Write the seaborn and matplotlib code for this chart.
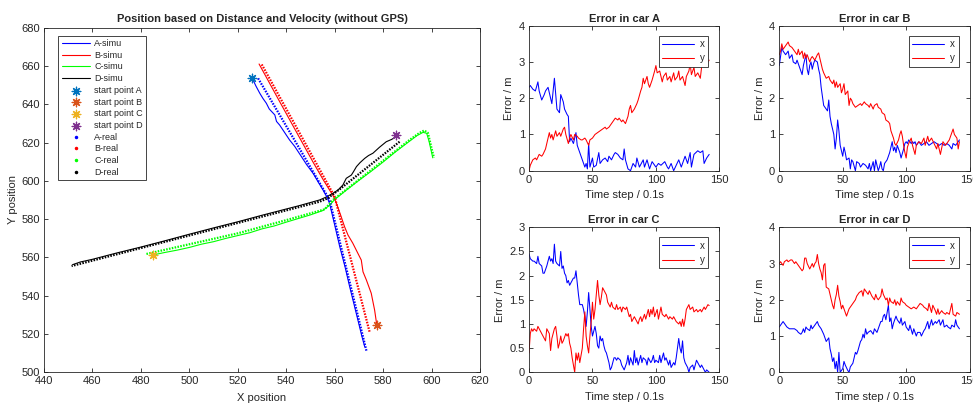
import matplotlib
matplotlib.use("Agg")
import matplotlib.pyplot as plt
from matplotlib.lines import Line2D
import seaborn as sns

# ---------------- trajectories (X / Y position) ----------------
a_simu_x = [526.0, 527.5, 529.1, 530.4, 531.8, 533.0, 535.3, 536.0, 537.3, 539.2, 541.4, 543.5,
            546.3, 548.4, 551.1, 553.0, 555.2, 557.0, 557.9, 560.0, 562.1, 564.3, 566.2, 568.0,
            569.6, 571.2, 572.4]
a_simu_y = [653.5, 649.5, 645.7, 643.0, 640.5, 637.5, 634.4, 631.0, 629.1, 625.5, 621.3, 618.0,
            612.6, 608.5, 603.9, 599.8, 595.2, 591.0, 588.2, 577.0, 565.6, 555.0, 544.7, 535.5,
            527.3, 519.0, 513.4]
a_real_x = [528.4, 544.2, 557.9, 573.1]
a_real_y = [653.5, 619.6, 590.0, 511.3]

b_simu_x = [577.4, 576.5, 575.1, 573.1, 571.7, 571.0, 569.6, 567.5, 565.5, 564.1, 563.4, 562.5,
            560.8, 559.6, 555.3, 551.2, 546.7, 541.6, 536.8, 528.8]
b_simu_y = [524.7, 532.5, 541.3, 548.2, 552.5, 558.6, 562.1, 567.4, 571.7, 576.0, 578.6, 582.0,
            588.0, 591.7, 600.5, 609.5, 619.8, 631.5, 642.5, 661.0]
b_real_x = [574.4, 560.0, 529.8]
b_real_y = [521.2, 591.7, 661.0]

c_simu_x = [485.1, 490.0, 495.0, 500.0, 505.0, 510.0, 515.0, 520.0, 525.0, 530.0, 535.0, 540.0,
            545.0, 550.0, 555.0, 558.0, 560.0, 565.0, 570.0, 575.0, 580.0, 585.0, 590.0, 594.0,
            596.5, 598.0, 599.0, 600.5]
c_simu_y = [561.3, 562.6, 563.8, 565.2, 566.9, 568.2, 569.9, 571.4, 572.9, 574.9, 576.4, 578.4,
            580.3, 582.2, 584.4, 587.3, 590.2, 595.3, 600.2, 604.9, 609.8, 615.0, 619.8, 623.6,
            625.3, 624.8, 620.5, 612.0]
c_real_x = [482.3, 520.1, 540.1, 555.9, 559.3, 575.0, 590.9, 595.0, 597.0, 598.5, 600.0, 601.0]
c_real_y = [561.8, 572.6, 579.5, 585.1, 590.0, 605.5, 621.3, 625.0, 626.3, 625.0, 617.0, 612.0]

d_simu_x = [585.4, 583.5, 581.3, 578.5, 575.8, 574.0, 572.4, 570.5, 569.0, 567.8, 566.9, 564.8,
            563.4, 561.4, 559.3, 556.5, 553.8, 545.6, 530.0, 520.0, 510.0, 500.0, 490.0, 480.0,
            470.0, 460.0, 455.0, 451.8]
d_simu_y = [623.0, 621.6, 620.4, 617.5, 614.4, 613.2, 611.7, 609.5, 607.4, 604.8, 603.0, 601.3,
            597.8, 595.2, 593.5, 591.5, 590.0, 587.1, 582.0, 578.6, 575.4, 572.1, 568.7, 565.4,
            562.3, 559.0, 557.6, 556.2]
d_real_x = [586.8, 562.0, 557.0, 553.8, 545.0, 451.4]
d_real_y = [620.4, 595.5, 590.8, 589.1, 586.2, 555.5]

start_x = [526.0, 577.4, 485.1, 585.2]
start_y = [653.5, 524.7, 561.3, 623.9]
cars = ["A", "B", "C", "D"]

# ---------------- error series: (time step, error in m) ----------------
err_a_x = [(0,2.3),(1,2.35),(3,2.25),(5,2.2),(7,2.45),(8,2.2),(10,1.95),(12,2.1),(13,2.2),(15,2.3),
           (17,2.0),(18,1.85),(20,2.55),(22,1.7),(24,1.6),(25,2.1),(27,1.9),(28,1.7),(30,1.55),
           (31,1.5),(32,0.8),(33,0.9),(35,0.75),(37,1.05),(38,0.7),(40,0.5),(42,0.3),(43,0.2),
           (44,0.1),(45,0.2),(46,0.05),(47,0.75),(48,0.1),(50,0.35),(51,0.1),(53,0.15),(55,0.5),
           (56,0.2),(58,0.3),(60,0.35),(62,0.25),(63,0.4),(65,0.3),(67,0.45),(68,0.5),(70,0.45),
           (72,0.35),(74,0.3),(75,0.6),(76,0.3),(78,0.05),(80,0.0),(82,0.2),(84,0.1),(85,0.35),
           (87,0.1),(90,0.3),(91,0.1),(93,0.3),(95,0.05),(97,0.25),(100,0.1),(102,0.2),(104,0.15),
           (107,0.25),(109,0.1),(110,0.05),(112,0.2),(114,0.0),(116,0.15),(118,0.3),(120,0.1),
           (123,0.4),(125,0.2),(127,0.5),(128,0.1),(130,0.45),(133,0.55),(135,0.5),(137,0.55),
           (138,0.2),(140,0.35),(142,0.45)]
err_a_y = [(0,0.0),(1,0.15),(3,0.3),(5,0.35),(6,0.3),(8,0.45),(10,0.4),(11,0.45),(13,0.6),(14,0.75),
           (16,1.05),(17,0.9),(18,1.0),(19,0.85),(21,1.1),(22,0.95),(24,1.05),(25,0.95),(27,1.15),
           (28,1.2),(29,1.0),(31,0.75),(32,0.9),(33,1.0),(35,0.85),(36,1.0),(38,0.95),(39,0.9),
           (41,0.85),(42,0.85),(44,0.9),(45,0.85),(47,0.7),(48,0.85),(50,0.9),(52,1.0),(54,1.05),
           (56,1.1),(58,1.15),(60,1.2),(61,1.15),(63,1.2),(65,1.3),(66,1.35),(68,1.45),(70,1.4),
           (71,1.45),(73,1.35),(74,1.4),(76,1.3),(78,1.5),(79,1.7),(80,1.8),(81,1.6),(83,1.7),
           (85,1.85),(86,1.95),(88,2.2),(89,2.3),(90,2.55),(91,2.4),(93,2.6),(94,2.4),(95,2.3),
           (97,2.5),(99,2.75),(100,2.9),(101,2.7),(103,2.75),(105,2.45),(106,2.6),(108,2.7),
           (109,2.5),(111,2.6),(112,2.45),(114,2.7),(115,2.5),(117,2.6),(118,2.75),(119,2.5),
           (121,2.6),(123,2.35),(124,2.6),(126,2.75),(127,2.95),(128,2.65),(130,2.85),(131,2.6),
           (133,2.7),(135,2.55),(136,2.85),(138,3.05),(139,2.9),(140,2.95),(141,3.0),(142,3.05)]

err_b_x = [(0,2.9),(2,3.4),(3,3.3),(5,3.2),(7,3.3),(8,3.1),(10,3.2),(11,3.0),(13,2.95),(14,3.05),
           (16,2.85),(18,2.65),(19,2.9),(20,3.05),(21,3.2),(22,2.8),(23,2.65),(24,2.9),(25,3.0),
           (26,2.8),(27,2.95),(28,3.05),(30,3.0),(31,2.8),(32,2.65),(33,2.3),(34,2.05),(35,1.8),
           (36,1.75),(37,1.7),(38,1.65),(39,1.95),(40,1.5),(41,1.3),(42,1.15),(43,1.0),(44,0.6),
           (45,0.9),(46,1.4),(47,1.1),(48,0.7),(50,0.4),(51,0.65),(52,0.5),(53,0.3),(55,0.35),
           (56,0.05),(57,0.3),(58,0.25),(60,0.0),(61,0.25),(63,0.2),(64,0.1),(66,0.2),(68,0.15),
           (70,0.05),(71,0.2),(72,0.0),(74,0.25),(75,0.0),(76,0.3),(78,0.0),(79,0.1),(80,0.25),
           (81,0.05),(82,0.0),(83,0.2),(84,0.25),(85,0.3),(87,0.5),(89,0.8),(90,0.55),(91,0.65),
           (92,0.5),(93,0.7),(95,0.5),(96,0.35),(98,0.6),(99,0.75),(100,0.8),(101,0.75),(102,0.85),
           (104,0.75),(105,0.8),(106,0.75),(107,0.8),(108,0.7),(109,0.75),(110,0.8),(112,0.7),
           (114,0.75),(116,0.8),(118,0.7),(120,0.75),(122,0.8),(124,0.75),(126,0.7),(128,0.75),
           (130,0.7),(132,0.75),(134,0.7),(136,0.6),(137,0.75),(139,0.7),(140,0.75),(142,0.85)]
err_b_y = [(0,3.2),(1,3.3),(2,3.5),(3,3.35),(4,3.4),(5,3.45),(7,3.55),(8,3.45),(10,3.4),(11,3.35),
           (12,3.3),(14,3.2),(15,3.35),(16,3.2),(18,3.3),(19,3.1),(20,3.25),(21,3.1),(22,3.2),
           (24,3.0),(25,3.1),(26,3.15),(27,3.1),(28,3.05),(30,3.2),(31,3.25),(32,3.1),(33,2.95),
           (34,2.8),(35,2.7),(37,2.55),(39,2.6),(40,2.5),(42,2.4),(43,2.5),(44,2.3),(45,2.45),
           (46,2.3),(48,2.4),(49,2.15),(50,2.25),(51,2.4),(52,2.1),(54,2.2),(55,1.8),(56,2.0),
           (57,1.95),(58,1.85),(60,1.75),(62,1.8),(64,1.85),(65,1.8),(67,1.9),(68,1.85),(70,1.8),
           (71,1.75),(72,1.85),(74,1.7),(75,1.8),(77,1.85),(78,1.75),(80,1.7),(81,1.6),(83,1.55),
           (84,1.4),(86,1.35),(87,1.3),(88,1.1),(90,0.9),(91,0.75),(92,0.7),(94,0.85),(95,1.0),
           (96,1.1),(97,0.95),(98,0.7),(99,0.5),(100,0.35),(101,0.65),(102,0.75),(104,0.9),
           (105,0.7),(107,0.45),(108,0.7),(110,0.8),(112,0.75),(114,0.9),(115,0.7),(117,0.95),
           (118,0.8),(120,0.9),(122,0.75),(124,0.6),(125,0.75),(127,0.45),(129,0.8),(131,0.7),
           (132,0.75),(134,0.85),(135,0.95),(137,1.15),(138,1.0),(140,0.9),(141,0.6),(142,0.8)]

err_c_x = [(0,2.45),(1,2.35),(3,2.3),(4,2.3),(6,2.25),(7,2.4),(8,2.25),(10,2.2),(11,2.05),(12,2.05),
           (14,2.2),(15,2.3),(16,2.4),(17,2.3),(18,2.35),(19,2.25),(20,2.65),(21,2.3),(22,2.25),
           (24,2.2),(25,2.5),(26,2.15),(27,2.2),(28,2.05),(29,2.0),(30,1.85),(31,1.9),(32,1.8),
           (33,1.85),(35,1.95),(36,1.95),(37,2.1),(38,1.85),(39,1.6),(40,1.4),(42,1.4),(43,1.3),
           (44,1.15),(45,0.95),(46,1.25),(47,1.65),(48,1.3),(49,0.95),(50,0.75),(51,0.85),
           (52,0.95),(53,0.8),(54,0.55),(55,0.5),(56,0.75),(57,0.65),(58,0.7),(59,0.55),(60,0.45),
           (61,0.4),(62,0.3),(63,0.2),(64,0.05),(65,0.1),(66,0.2),(67,0.3),(68,0.3),(69,0.25),
           (70,0.3),(72,0.25),(73,0.15),(74,0.1),(75,0.05),(77,0.2),(78,0.35),(79,0.15),(80,0.3),
           (82,0.15),(83,0.45),(84,0.2),(85,0.3),(86,0.15),(88,0.35),(89,0.2),(90,0.3),(92,0.25),
           (93,0.15),(94,0.3),(96,0.2),(97,0.25),(98,0.35),(99,0.2),(100,0.25),(102,0.2),
           (103,0.35),(104,0.2),(105,0.3),(106,0.4),(107,0.25),(108,0.3),(110,0.15),(111,0.25),
           (112,0.1),(114,0.2),(115,0.15),(116,0.3),(118,0.7),(119,0.5),(120,0.4),(121,0.65),
           (122,0.3),(123,0.2),(125,0.1),(126,0.0),(127,0.1),(129,0.15),(130,0.05),(132,0.25),
           (133,0.2),(135,0.1),(136,0.15),(138,0.05),(139,0.0),(140,0.05),(142,0.0)]
err_c_y = [(0,0.4),(1,0.8),(2,0.9),(3,0.85),(4,0.9),(6,0.85),(7,0.95),(8,0.9),(10,0.8),(11,0.75),
           (13,0.65),(14,0.9),(15,0.85),(16,0.8),(17,0.45),(18,0.7),(20,0.9),(21,0.95),(22,0.75),
           (23,0.5),(24,0.6),(25,0.75),(26,0.6),(27,0.65),(29,0.8),(30,0.75),(31,0.8),(32,0.6),
           (33,0.5),(34,0.3),(35,0.15),(36,0.0),(37,0.4),(38,0.25),(39,0.4),(40,0.2),(41,0.35),
           (42,0.5),(43,0.9),(44,1.25),(45,0.75),(46,0.55),(47,0.4),(48,0.75),(49,1.05),(50,1.45),
           (51,1.1),(52,1.3),(53,1.6),(54,1.9),(55,1.6),(56,1.4),(57,1.55),(58,1.75),(59,1.7),
           (61,1.6),(62,1.45),(63,1.4),(64,1.35),(65,1.45),(66,1.35),(68,1.3),(69,1.4),(70,1.3),
           (72,1.35),(73,1.25),(74,1.35),(76,1.3),(77,1.35),(78,1.25),(79,1.15),(80,1.2),(81,1.05),
           (83,1.15),(84,1.1),(86,1.0),(87,1.1),(88,1.15),(89,1.05),(91,1.2),(92,1.1),(94,1.3),
           (95,1.15),(96,1.3),(97,1.2),(98,1.35),(99,1.15),(101,1.3),(102,1.1),(104,1.35),
           (105,1.2),(107,1.15),(108,1.2),(110,1.1),(111,1.15),(113,1.1),(114,1.15),(116,1.05),
           (118,1.0),(119,1.05),(120,0.95),(121,1.1),(122,0.95),(123,1.1),(124,1.3),(126,1.4),
           (127,1.3),(129,1.35),(130,1.25),(132,1.3),(133,1.25),(135,1.3),(136,1.25),(138,1.35),
           (139,1.3),(141,1.4),(142,1.38)]

err_d_x = [(0,1.25),(1,1.3),(3,1.4),(4,1.35),(6,1.25),(8,1.2),(10,1.2),(12,1.2),(14,1.15),(15,1.1),
           (17,1.05),(18,1.1),(19,1.2),(20,1.1),(21,1.25),(22,1.2),(24,1.15),(25,1.3),(26,1.2),
           (28,1.3),(30,1.4),(31,1.3),(33,1.2),(35,1.05),(37,0.85),(38,0.9),(39,0.95),(40,0.65),
           (41,0.5),(42,0.3),(43,0.4),(44,0.1),(45,0.3),(46,0.0),(47,0.55),(48,0.0),(50,0.1),
           (51,0.3),(52,0.2),(54,0.05),(55,0.0),(56,0.15),(58,0.25),(59,0.4),(60,0.55),(61,0.5),
           (62,0.6),(64,0.85),(65,0.9),(66,1.05),(67,0.95),(68,1.2),(69,1.05),(70,1.1),(72,1.15),
           (74,1.05),(75,1.2),(77,1.1),(78,1.2),(80,1.4),(81,1.4),(82,1.55),(83,1.6),(84,1.45),
           (86,1.85),(87,1.4),(88,1.5),(89,1.2),(90,1.35),(92,1.55),(93,1.45),(95,1.35),(96,1.5),
           (97,1.3),(99,1.4),(100,1.25),(102,1.15),(103,1.3),(105,1.05),(106,1.2),(108,1.0),
           (109,1.1),(111,1.1),(112,1.0),(114,1.15),(115,1.2),(117,1.4),(118,1.2),(120,1.45),
           (121,1.3),(123,1.4),(124,1.35),(126,1.45),(127,1.3),(129,1.45),(130,1.25),(132,1.3),
           (133,1.25),(135,1.2),(136,1.3),(138,1.25),(139,1.45),(140,1.3),(142,1.2)]
err_d_y = [(0,3.0),(1,3.05),(3,2.95),(4,3.05),(6,3.1),(7,3.05),(9,3.1),(10,3.1),(12,3.0),(13,3.05),
           (15,2.95),(17,2.85),(18,2.8),(19,2.85),(20,3.15),(21,3.15),(22,3.0),(24,2.85),(26,3.0),
           (27,2.9),(28,3.0),(29,3.05),(30,3.25),(31,3.0),(32,2.85),(33,2.75),(34,2.55),(35,2.95),
           (36,3.0),(37,2.35),(39,2.3),(40,2.15),(42,1.85),(43,1.75),(44,2.0),(45,2.15),(46,2.4),
           (47,2.1),(48,1.95),(49,1.75),(50,1.85),(51,1.75),(53,1.55),(54,1.65),(55,1.75),
           (57,1.85),(58,1.9),(60,2.0),(61,2.1),(63,2.2),(65,2.25),(66,2.1),(67,2.3),(68,2.25),
           (70,2.15),(71,2.25),(73,2.1),(75,2.0),(76,2.15),(77,2.05),(78,2.0),(80,2.1),(81,2.3),
           (82,2.15),(84,2.0),(85,2.05),(86,1.85),(87,2.05),(88,1.95),(90,1.9),(91,2.0),(92,1.85),
           (93,1.95),(95,1.85),(96,2.05),(97,1.95),(99,1.9),(100,1.85),(102,1.8),(104,1.75),
           (106,1.8),(108,1.75),(110,1.85),(111,1.9),(113,1.85),(114,1.8),(116,1.75),(117,1.7),
           (118,1.9),(120,1.65),(121,1.85),(123,1.7),(124,1.6),(125,1.75),(126,1.6),(128,1.7),
           (129,1.65),(131,1.6),(132,1.65),(134,1.6),(136,1.9),(137,1.6),(139,1.55),(140,1.65),
           (142,1.6)]

# ---------------- styling ----------------
sns.set_theme(style="ticks")
ink = "#262626"
plt.rcParams.update({
    "font.family": ["Liberation Sans", "DejaVu Sans"],
    "font.size": 8,
    "axes.edgecolor": ink, "axes.labelcolor": ink, "axes.linewidth": 0.6,
    "xtick.color": ink, "ytick.color": ink,
    "xtick.labelsize": 8, "ytick.labelsize": 8, "axes.labelsize": 8,
    "xtick.direction": "in", "ytick.direction": "in",
    "xtick.top": True, "ytick.right": True,
    "xtick.major.size": 3, "ytick.major.size": 3,
    "xtick.major.width": 0.6, "ytick.major.width": 0.6,
    "xtick.major.pad": 3, "ytick.major.pad": 3,
    "axes.titlesize": 8, "axes.titleweight": "bold",
    "legend.fontsize": 6.5,
})

fig = plt.figure(figsize=(9.73, 4.03), dpi=100)
fig.patch.set_facecolor("white")

# ---------------- position panel ----------------
ax = fig.add_axes([0.0452, 0.0762, 0.4481, 0.8553])
line_colors = ["#0000ff", "#ff0000", "#00ff00", "#000000"]
start_colors = ["#0072BD", "#D95319", "#EDB120", "#7E2F8E"]
simu = [(a_simu_x, a_simu_y), (b_simu_x, b_simu_y), (c_simu_x, c_simu_y), (d_simu_x, d_simu_y)]
real = [(a_real_x, a_real_y), (b_real_x, b_real_y), (c_real_x, c_real_y), (d_real_x, d_real_y)]

handles, labels = [], []
for (sx, sy), col, car in zip(simu, line_colors, cars):
    sns.lineplot(x=sx, y=sy, ax=ax, color=col, lw=0.8, sort=False, estimator=None, legend=False)
    handles.append(ax.lines[-1])
    labels.append(f"{car}-simu")
for px, py, col, car in zip(start_x, start_y, start_colors, cars):
    sns.scatterplot(x=[px], y=[py], ax=ax, marker=(8, 2, 0), color=col, s=38,
                    linewidth=0.9, legend=False, zorder=5)
    handles.append(ax.collections[-1])
    labels.append(f"start point {car}")
for (rx, ry), col, car in zip(real, line_colors, cars):
    sns.lineplot(x=rx, y=ry, ax=ax, color=col, lw=1.6, linestyle=(0, (0.7, 0.6)),
                 sort=False, estimator=None, legend=False)
    handles.append(Line2D([], [], ls="none", marker=".", ms=3, color=col))
    labels.append(f"{car}-real")

ax.set_xlim(440, 620)
ax.set_ylim(500, 680)
ax.set_xticks(range(440, 621, 20))
ax.set_yticks(range(500, 681, 20))
ax.set_xlabel("X position", labelpad=5)
ax.set_ylabel("Y position", labelpad=2)
ax.set_title("Position based on Distance and Velocity (without GPS)", pad=4)
leg = ax.legend(handles, labels, loc="upper left", bbox_to_anchor=(0.033, 0.976),
                borderaxespad=0, fancybox=False, framealpha=1, edgecolor=ink,
                handlelength=3.2, handletextpad=0.4, labelspacing=0.3, borderpad=0.35)
leg.get_frame().set_linewidth(0.6)

# ---------------- error panels ----------------
panels = [
    ("A", err_a_x, err_a_y, [0.5437, 0.5764, 0.1956, 0.3598], (0, 4), [0, 1, 2, 3, 4]),
    ("B", err_b_x, err_b_y, [0.8009, 0.5764, 0.1956, 0.3598], (0, 4), [0, 1, 2, 3, 4]),
    ("C", err_c_x, err_c_y, [0.5437, 0.0762, 0.1956, 0.3598], (0, 3), [0, 0.5, 1, 1.5, 2, 2.5, 3]),
    ("D", err_d_x, err_d_y, [0.8009, 0.0762, 0.1956, 0.3598], (0, 4), [0, 1, 2, 3, 4]),
]
for car, ex, ey, rect, ylim, yticks in panels:
    eax = fig.add_axes(rect)
    tx, vx = zip(*ex)
    ty, vy = zip(*ey)
    sns.lineplot(x=list(tx), y=list(vx), ax=eax, color="#0000ff", lw=0.75,
                 sort=False, estimator=None, label="x")
    sns.lineplot(x=list(ty), y=list(vy), ax=eax, color="#ff0000", lw=0.75,
                 sort=False, estimator=None, label="y")
    eax.set_xlim(0, 150)
    eax.set_ylim(*ylim)
    eax.set_xticks([0, 50, 100, 150])
    eax.set_yticks(yticks)
    eax.set_yticklabels([f"{t:g}" for t in yticks])
    eax.set_title(f"Error in car {car}", pad=3)
    eax.set_xlabel("Time step / 0.1s", labelpad=4)
    eax.set_ylabel("Error / m", labelpad=3)
    lg = eax.legend(loc="upper right", bbox_to_anchor=(0.942, 0.931), borderaxespad=0,
                    fontsize=7, fancybox=False, framealpha=1, edgecolor=ink, handlelength=3.3,
                    handletextpad=0.6, labelspacing=0.45, borderpad=0.35)
    lg.get_frame().set_linewidth(0.6)

fig.savefig("out.png", dpi=100)
